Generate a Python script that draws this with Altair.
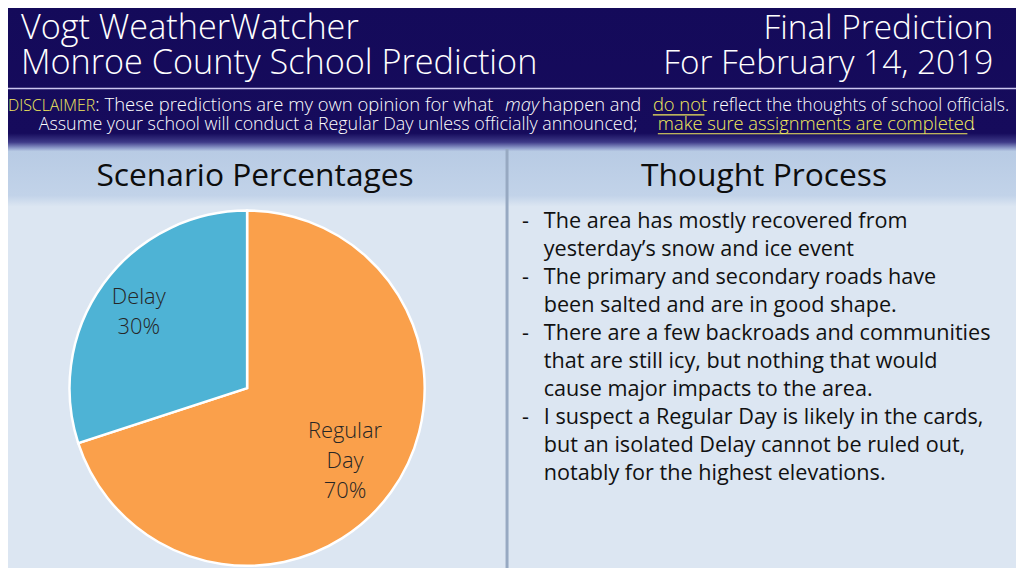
import altair as alt
import pandas as pd

# ---------------- data ----------------
categories = ["Regular Day", "Delay"]
percent = [70, 30]
slice_labels = ["Regular\nDay\n70%", "Delay\n30%"]

title_left = ["Vogt WeatherWatcher", "Monroe County School Prediction"]
title_right = ["Final Prediction", "For February 14, 2019"]
section_titles = ["Scenario Percentages", "Thought Process"]

thought_lines = [
    "The area has mostly recovered from",
    "yesterday\u2019s snow and ice event",
    "The primary and secondary roads have",
    "been salted and are in good shape.",
    "There are a few backroads and communities",
    "that are still icy, but nothing that would",
    "cause major impacts to the area.",
    "I suspect a Regular Day is likely in the cards,",
    "but an isolated Delay cannot be ruled out,",
    "notably for the highest elevations.",
]
bullet_rows = [0, 2, 4, 7]

disc1_text = ["DISCLAIMER", ": These predictions are my own opinion for what", "may",
              "happen and", "do not", "reflect the thoughts of school officials."]
disc1_kind = ["yellow", "white", "italic", "white", "yellow", "white"]
disc2_text = ["Assume your school will conduct a Regular Day unless officially announced;",
              "make sure assignments are completed", "."]
disc2_kind = ["white", "yellow", "white"]

# ---------------- layout (reference pixels) ----------------
W, H = 1016, 560
OFF = 8
def X(v):
    return v - OFF
def Y(v):
    return v - OFF

disc1_x = [8, 96, 509, 546, 658, 718]
disc1_size = [16, 18.6, 18.5, 18.5, 18.5, 17.6]
disc2_x = [39, 663, 979]
disc2_size = [18, 18.4, 18]
underlines = [(658, 710, 113.5), (663, 975, 132.5)]

# pie label placement per slice: (radius, dy)
label_place = {"Regular Day": (122, -29), "Delay": (135, -13)}

FONT = "Open Sans"
NAVY = "#140A5A"
YELLOW = "#F4EC5C"
ORANGE = "#FAA04B"
BLUE = "#4EB3D5"
BODY = "#DCE6F2"

one = pd.DataFrame({"k": [0]})

def rect(x1, x2, y1, y2, fill):
    return alt.Chart(one).mark_rect(fill=fill, strokeWidth=0).encode(
        x=alt.value(X(x1)), x2=alt.value(X(x2)), y=alt.value(Y(y1)), y2=alt.value(Y(y2)))

def vgrad(stops):
    return alt.LinearGradient(
        gradient="linear", x1=0, x2=0, y1=0, y2=1,
        stops=[alt.GradientStop(offset=o, color=c) for o, c in stops])

def label(txt, x, y, size, color, align="left", weight=300, style="normal"):
    return alt.Chart(one).mark_text(
        text=txt, font=FONT, fontSize=size, fontWeight=weight, fontStyle=style,
        color=color, align=align, baseline="alphabetic"
    ).encode(x=alt.value(X(x)), y=alt.value(Y(y)))

def hrule(x1, x2, y, color, w):
    return alt.Chart(one).mark_rule(color=color, strokeWidth=w).encode(
        x=alt.value(X(x1)), x2=alt.value(X(x2)), y=alt.value(Y(y)))

layers = []

# backgrounds
layers.append(rect(0, 1024, 0, 576, BODY))
layers.append(rect(0, 1024, 0, 150, vgrad([
    (0, NAVY), (0.88, "#160B5C"), (0.94, "#3E3A88"), (0.98, "#8E9CCB"), (1, "#B6C8E2")])))
layers.append(rect(0, 1024, 150, 206, vgrad([
    (0, "#B8CBE4"), (0.8, "#C2D3E9"), (1, BODY)])))
layers.append(hrule(0, 1024, 87, "#CBC5F0", 1.5))
layers.append(alt.Chart(one).mark_rule(color="#97A9C2", strokeWidth=3).encode(
    x=alt.value(X(511)), y=alt.value(Y(148)), y2=alt.value(Y(576))))

# header titles
layers.append(label(title_left[0], 21, 37, 34.5, "white"))
layers.append(label(title_left[1], 21, 72, 34.5, "white"))
layers.append(label(title_right[0], 1001, 37, 33.6, "white", align="right"))
layers.append(label(title_right[1], 1001, 72, 33.6, "white", align="right"))

# disclaimer
def seg_color(kind):
    return YELLOW if kind == "yellow" else "white"

for t, k, x, s in zip(disc1_text, disc1_kind, disc1_x, disc1_size):
    layers.append(label(t, x, 110, s, seg_color(k),
                        style="italic" if k == "italic" else "normal"))
for t, k, x, s in zip(disc2_text, disc2_kind, disc2_x, disc2_size):
    layers.append(label(t, x, 129, s, seg_color(k)))
for (a, b, yy) in underlines:
    layers.append(hrule(a, b, yy, YELLOW, 1.2))

# section titles
layers.append(label(section_titles[0], 257, 185, 32, "#0D0D0D", align="center", weight=400))
layers.append(label(section_titles[1], 770, 185, 32, "#0D0D0D", align="center", weight=400))

# pie
pie_df = pd.DataFrame({"cat": categories, "pct": percent, "lab": slice_labels,
                       "ord": list(range(len(categories)))})
theta = alt.Theta("pct:Q", stack=True)
color = alt.Color("cat:N", scale=alt.Scale(domain=categories, range=[ORANGE, BLUE]), legend=None)
pie = alt.Chart(pie_df).mark_arc(radius=179, stroke="white", strokeWidth=2.5).encode(
    theta=theta, color=color, order=alt.Order("ord:Q"),
    x=alt.value(X(249)), y=alt.value(Y(389)))
layers.append(pie)
for cat, (rad, dy) in label_place.items():
    layers.append(
        alt.Chart(pie_df).transform_calculate(
            shown=f"datum.cat === '{cat}' ? datum.lab : ''"
        ).mark_text(
            radius=rad, dy=dy, lineBreak="\n", font=FONT, fontSize=22, fontWeight=300,
            lineHeight=30.5, color="#262626", align="center", baseline="middle"
        ).encode(theta=theta, order=alt.Order("ord:Q"), text="shown:N",
                 x=alt.value(X(249)), y=alt.value(Y(389)))
    )

# thought process bullets
lines_df = pd.DataFrame({"i": list(range(len(thought_lines))), "t": thought_lines})
bul_df = pd.DataFrame({"i": bullet_rows, "t": ["-"] * len(bullet_rows)})
yscale = alt.Scale(domain=[0, len(thought_lines) - 1], range=[Y(228), Y(482)])
layers.append(alt.Chart(lines_df).mark_text(
    font=FONT, fontSize=21.8, fontWeight=400, color="#111111", align="left",
    baseline="alphabetic").encode(
    x=alt.value(X(548)), y=alt.Y("i:Q", scale=yscale, axis=None), text="t:N"))
layers.append(alt.Chart(bul_df).mark_text(
    font=FONT, fontSize=21.8, fontWeight=400, color="#111111", align="left",
    baseline="alphabetic").encode(
    x=alt.value(X(526)), y=alt.Y("i:Q", scale=yscale, axis=None), text="t:N"))

chart = alt.layer(*layers).properties(
    width=W, height=H, padding=0, background=BODY,
    autosize=alt.AutoSizeParams(type="none")
).configure_view(stroke=None)

chart.save("out.html", embed_options={"renderer": "svg", "actions": False})
